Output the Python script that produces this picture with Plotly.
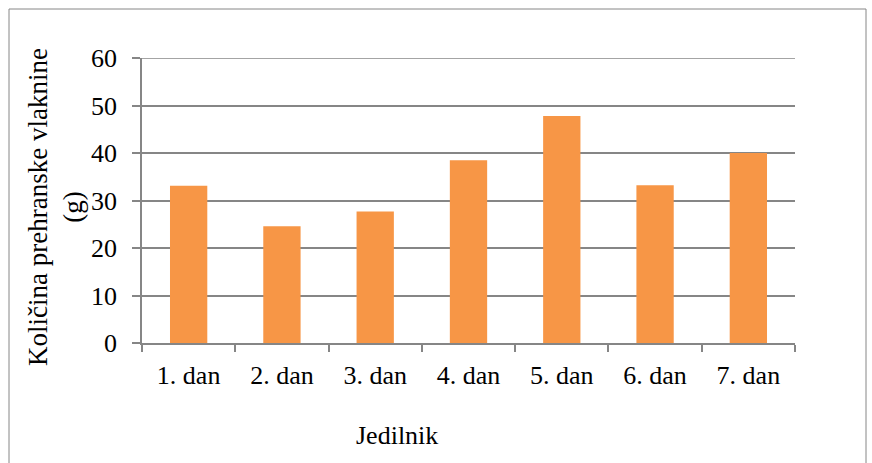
import plotly.graph_objects as go

# Dnevni jedilnik in količina prehranske vlaknine
dnevi = ["1. dan", "2. dan", "3. dan", "4. dan", "5. dan", "6. dan", "7. dan"]
vlaknine = [33.1, 24.6, 27.7, 38.5, 47.8, 33.2, 40.0]
y_ticks = [0, 10, 20, 30, 40, 50, 60]

W, H = 872, 463
L, R, T, B = 142, 77, 58, 120
pw, ph = W - L - R, H - T - B

def px_x(x):
    return (x - L) / pw

def px_y(y):
    return (H - B - y) / ph

font = dict(family="Liberation Serif, Times New Roman, serif", size=26, color="#000000")
title_font = dict(font, size=27)
grey = "#868686"

fig = go.Figure(go.Bar(
    x=dnevi, y=vlaknine,
    marker=dict(color="#F79646", line=dict(width=0)),
    width=0.4,
))

fig.update_layout(
    width=W, height=H,
    margin=dict(l=L, r=R, t=T, b=B),
    paper_bgcolor="white", plot_bgcolor="white",
    font=font,
    showlegend=False,
    xaxis=dict(
        showline=True, linecolor=grey, linewidth=1.5,
        ticks="outside", tickson="boundaries", ticklen=7, tickcolor=grey, tickwidth=1.5,
        showgrid=False, tickfont=font, ticklabelstandoff=8,
    ),
    yaxis=dict(
        range=[0, 60], tickvals=y_ticks,
        showline=True, linecolor=grey, linewidth=1.5,
        ticks="outside", ticklen=8, tickcolor=grey, tickwidth=1.5,
        showgrid=True, gridcolor=grey, gridwidth=1.5,
        zeroline=False, tickfont=font, ticklabelstandoff=10,
    ),
    shapes=[
        # top gridline at the end of the value range
        dict(type="line", xref="paper", yref="y", x0=0, x1=1, y0=60, y1=60,
             line=dict(color=grey, width=1.5)),
        # chart frame
        dict(type="rect", xref="paper", yref="paper",
             x0=px_x(9), x1=px_x(866), y0=px_y(470), y1=px_y(9),
             line=dict(color=grey, width=1), fillcolor="rgba(0,0,0,0)", layer="below"),
    ],
    annotations=[
        dict(text="Količina prehranske vlaknine<br>(g)", textangle=-90,
             xref="paper", yref="paper", x=px_x(55), y=px_y(207),
             showarrow=False, font=title_font, xanchor="center", yanchor="middle"),
        dict(text="Jedilnik", xref="paper", yref="paper",
             x=px_x(397), y=px_y(435), showarrow=False, font=font,
             xanchor="center", yanchor="middle"),
    ],
)

fig.write_html("out.html")
